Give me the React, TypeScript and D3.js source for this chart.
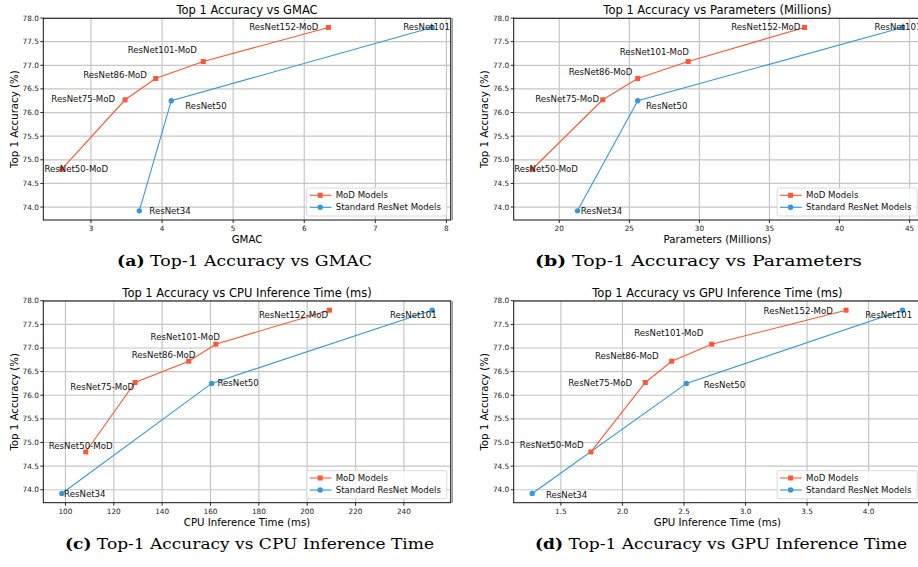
import React from "react";
import * as d3 from "d3";

// ---------------- data ----------------
const modNames = ["ResNet50-MoD", "ResNet75-MoD", "ResNet86-MoD", "ResNet101-MoD", "ResNet152-MoD"];
const stdNames = ["ResNet34", "ResNet50", "ResNet101"];
const modAccuracy = [74.8, 76.27, 76.72, 77.08, 77.8];
const stdAccuracy = [73.92, 76.25, 77.8];
const modGmac = [2.59, 3.48, 3.91, 4.58, 6.34];
const stdGmac = [3.68, 4.13, 7.8];
const modParams = [18.07, 23.1, 25.6, 29.2, 37.5];
const stdParams = [21.3, 25.6, 44.5];
const modCpu = [108.4, 128.8, 151.0, 162.2, 209.2];
const stdCpu = [98.5, 160.5, 251.7];
const modGpu = [1.744, 2.186, 2.4, 2.725, 3.817];
const stdGpu = [1.267, 2.52, 4.276];
const yTicks = [74.0, 74.5, 75.0, 75.5, 76.0, 76.5, 77.0, 77.5, 78.0];
const gmacTicks = [3, 4, 5, 6, 7, 8];
const paramTicks = [20, 25, 30, 35, 40, 45];
const cpuTicks = [100, 120, 140, 160, 180, 200, 220, 240];
const gpuTicks = [1.5, 2.0, 2.5, 3.0, 3.5, 4.0];
const legendNames = ["MoD Models", "Standard ResNet Models"];

// ---------------- style / layout ----------------
const MOD_COLOR = "#FF5733";
const STD_COLOR = "#3498DB";
const W = 407.4;
const H = 201.7;
const SANS = "DejaVu Sans, sans-serif";

type Lab = [string, number, number]; // anchor, dx, dy (label layout)

type PanelCfg = {
  left: number;
  top: number;
  modX: number[];
  stdX: number[];
  xTicks: number[];
  fmt: string;
  title: string;
  xLabel: string;
  ylabelX: number;
  modLab: Lab[];
  stdLab: Lab[];
};

const panels: PanelCfg[] = [
  {
    left: 43.3, top: 18.3, modX: modGmac, stdX: stdGmac, xTicks: gmacTicks, fmt: "d",
    title: "Top 1 Accuracy vs GMAC", xLabel: "GMAC", ylabelX: 14,
    modLab: [["start", -17.4, 0], ["end", -10, -0.7], ["end", -8.7, -3.3], ["end", -6.3, -11.7], ["end", -10, -0.6]],
    stdLab: [["start", 10, 0], ["start", 14, 5.7], ["start", -29, 0]],
  },
  {
    left: 513.7, top: 18.3, modX: modParams, stdX: stdParams, xTicks: paramTicks, fmt: "d",
    title: "Top 1 Accuracy vs Parameters (Millions)", xLabel: "Parameters (Millions)", ylabelX: 484,
    modLab: [["start", -18, 0], ["end", -3.7, -0.7], ["end", -5.3, -6.3], ["end", 0.7, -9.3], ["end", -4, 0]],
    stdLab: [["start", 3.3, 0], ["start", 8.3, 5.3], ["start", -28, 0]],
  },
  {
    left: 43.3, top: 301, modX: modCpu, stdX: stdCpu, xTicks: cpuTicks, fmt: "d",
    title: "Top 1 Accuracy vs CPU Inference Time (ms)", xLabel: "CPU Inference Time (ms)", ylabelX: 14,
    modLab: [["start", -37, -6.3], ["end", -1, 4.7], ["end", 6.7, -6], ["end", 4, -7.3], ["end", -1.3, 5]],
    stdLab: [["start", 2.3, 0], ["start", 5.7, 0], ["start", -42.3, 5]],
  },
  {
    left: 513.7, top: 301, modX: modGpu, stdX: stdGpu, xTicks: gpuTicks, fmt: ".1f",
    title: "Top 1 Accuracy vs GPU Inference Time (ms)", xLabel: "GPU Inference Time (ms)", ylabelX: 484,
    modLab: [["end", -7.3, -7], ["end", -13.3, 1], ["end", -13, -5], ["end", -8.3, -10.7], ["end", -13.3, 1.3]],
    stdLab: [["start", 13.7, 1.7], ["start", 17.3, 1.7], ["start", -37.3, 5]],
  },
];

const captions = [
  { tag: "(a)", text: " Top-1 Accuracy vs GMAC", x: 117, y: 266, w: 255 },
  { tag: "(b)", text: " Top-1 Accuracy vs Parameters", x: 535, y: 266, w: 327 },
  { tag: "(c)", text: " Top-1 Accuracy vs CPU Inference Time", x: 65, y: 549, w: 369 },
  { tag: "(d)", text: " Top-1 Accuracy vs GPU Inference Time", x: 535, y: 549, w: 372 },
];

function padded(vals: number[]): [number, number] {
  const [lo, hi] = d3.extent(vals) as [number, number];
  const m = (hi - lo) * 0.05;
  return [lo - m, hi + m];
}

function Panel({ cfg, idx }: { cfg: PanelCfg; idx: number }) {
  const { left, top } = cfg;
  const right = left + W;
  const bottom = top + H;
  const x = d3.scaleLinear().domain(padded([...cfg.modX, ...cfg.stdX])).range([left, right]);
  const y = d3.scaleLinear().domain(padded([...modAccuracy, ...stdAccuracy])).range([bottom, top]);
  const fmtX = d3.format(cfg.fmt);
  const fmtY = d3.format(".1f");
  const line = d3.line<[number, number]>().x((d) => x(d[0])).y((d) => y(d[1]));
  const modPts: [number, number][] = cfg.modX.map((v, i) => [v, modAccuracy[i]]);
  const stdPts: [number, number][] = cfg.stdX.map((v, i) => [v, stdAccuracy[i]]);
  const clipId = `clip${idx}`;
  const lgW = 140, lgH = 28;
  const lgX = right - 4 - lgW;
  const lgY = bottom - 4 - lgH;
  const ms = 5;
  return (
    <g>
      <defs>
        <clipPath id={clipId}>
          <rect x={left} y={top} width={W} height={H} />
        </clipPath>
      </defs>
      {/* grid */}
      <g stroke="#c6c6c6" strokeWidth={1.2}>
        {cfg.xTicks.map((t) => (
          <line key={"gx" + t} x1={x(t)} x2={x(t)} y1={top} y2={bottom} />
        ))}
        {yTicks.map((t) => (
          <line key={"gy" + t} x1={left} x2={right} y1={y(t)} y2={y(t)} />
        ))}
      </g>
      {/* series */}
      <g clipPath={`url(#${clipId})`}>
        <path d={line(modPts) || ""} fill="none" stroke={MOD_COLOR} strokeWidth={1.1} />
        <path d={line(stdPts) || ""} fill="none" stroke={STD_COLOR} strokeWidth={1.1} />
        {modPts.map((p, i) => (
          <rect key={"m" + i} x={x(p[0]) - ms / 2} y={y(p[1]) - ms / 2} width={ms} height={ms} fill={MOD_COLOR} />
        ))}
        {stdPts.map((p, i) => (
          <circle key={"s" + i} cx={x(p[0])} cy={y(p[1])} r={2.7} fill={STD_COLOR} />
        ))}
      </g>
      {/* annotations */}
      <g fontFamily={SANS} fontSize={8.6} fill="#111">
        {modPts.map((p, i) => {
          const [a, dx, dy] = cfg.modLab[i];
          return (
            <text key={"ml" + i} x={x(p[0]) + dx} y={y(p[1]) + dy} textAnchor={a} dominantBaseline="central">
              {modNames[i]}
            </text>
          );
        })}
        {stdPts.map((p, i) => {
          const [a, dx, dy] = cfg.stdLab[i];
          return (
            <text key={"sl" + i} x={x(p[0]) + dx} y={y(p[1]) + dy} textAnchor={a} dominantBaseline="central">
              {stdNames[i]}
            </text>
          );
        })}
      </g>
      {/* legend */}
      <g>
        <rect x={lgX} y={lgY} width={lgW} height={lgH} rx={2} fill="#fff" fillOpacity={0.8} stroke="#d0d0d0" strokeWidth={0.8} />
        {[MOD_COLOR, STD_COLOR].map((c, i) => {
          const ly = lgY + 7.3 + i * 12;
          return (
            <g key={"lg" + i}>
              <line x1={lgX + 3} x2={lgX + 24.7} y1={ly} y2={ly} stroke={c} strokeWidth={1.1} />
              {i === 0 ? (
                <rect x={lgX + 13.5 - ms / 2} y={ly - ms / 2} width={ms} height={ms} fill={c} />
              ) : (
                <circle cx={lgX + 13.5} cy={ly} r={2.7} fill={c} />
              )}
              <text x={lgX + 29} y={ly} fontFamily={SANS} fontSize={8.6} fill="#111" dominantBaseline="central">
                {legendNames[i]}
              </text>
            </g>
          );
        })}
      </g>
      {/* spines */}
      <rect x={left} y={top} width={W} height={H} fill="none" stroke="#111" strokeWidth={1} />
      {idx % 2 === 0 && <line x1={right + 1.5} x2={right + 1.5} y1={top} y2={bottom} stroke="#999" strokeWidth={1.5} />}
      {/* ticks */}
      <g stroke="#111" strokeWidth={0.9}>
        {cfg.xTicks.map((t) => (
          <line key={"tx" + t} x1={x(t)} x2={x(t)} y1={bottom} y2={bottom + 3} />
        ))}
        {yTicks.map((t) => (
          <line key={"ty" + t} x1={left - 3} x2={left} y1={y(t)} y2={y(t)} />
        ))}
      </g>
      <g fontFamily={SANS} fontSize={7.3} fill="#222">
        {cfg.xTicks.map((t) => (
          <text key={"lx" + t} x={x(t)} y={bottom + 8.5} textAnchor="middle" dominantBaseline="central">
            {fmtX(t)}
          </text>
        ))}
        {yTicks.map((t) => (
          <text key={"ly" + t} x={left - 4.5} y={y(t)} textAnchor="end" dominantBaseline="central">
            {fmtY(t)}
          </text>
        ))}
      </g>
      {/* titles */}
      <text x={(left + right) / 2} y={top - 8.5} textAnchor="middle" dominantBaseline="central" fontFamily={SANS} fontSize={11.5} fill="#000">
        {cfg.title}
      </text>
      <text x={(left + right) / 2} y={bottom + 19.5} textAnchor="middle" dominantBaseline="central" fontFamily={SANS} fontSize={10.2} fill="#000">
        {cfg.xLabel}
      </text>
      <text
        transform={`translate(${cfg.ylabelX},${(top + bottom) / 2}) rotate(-90)`}
        textAnchor="middle"
        dominantBaseline="central"
        fontFamily={SANS}
        fontSize={10.2}
        fill="#000"
      >
        Top 1 Accuracy (%)
      </text>
    </g>
  );
}

export default function App() {
  return (
    <svg
      width={918}
      height={567}
      viewBox="0 0 918 567"
      style={{ position: "absolute", left: 0, top: 0, background: "#fff" }}
    >
      <rect x={0} y={0} width={918} height={567} fill="#fff" />
      {panels.map((p, i) => (
        <Panel key={i} cfg={p} idx={i} />
      ))}
      {captions.map((c, i) => (
        <text
          key={"cap" + i}
          x={c.x}
          y={c.y}
          fontFamily="DejaVu Serif, serif"
          fontSize={15.5}
          fill="#000"
          textLength={c.w}
          lengthAdjust="spacingAndGlyphs"
        >
          <tspan fontWeight="bold">{c.tag}</tspan>
          <tspan fontWeight="normal">{c.text}</tspan>
        </text>
      ))}
    </svg>
  );
}
